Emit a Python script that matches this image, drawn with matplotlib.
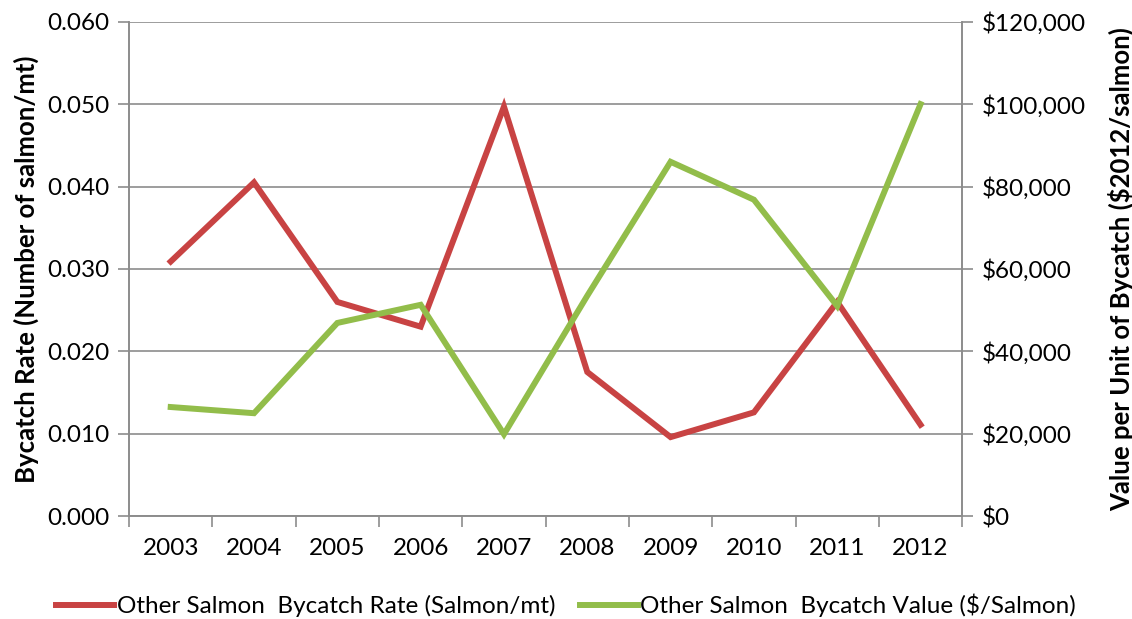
import matplotlib
matplotlib.use("Agg")
import matplotlib.pyplot as plt
from matplotlib.ticker import FuncFormatter, MultipleLocator

years = ["2003", "2004", "2005", "2006", "2007", "2008", "2009", "2010", "2011", "2012"]
bycatch_rate = [0.0309, 0.0405, 0.0260, 0.0230, 0.0497, 0.0175, 0.0096, 0.0126, 0.0260, 0.0111]
bycatch_value = [26500, 25000, 46900, 51300, 19900, 53500, 86000, 76800, 51000, 100000]

RED = "#C84343"
GREEN = "#92BD4A"
GRID = "#8c8c8c"

plt.rcParams["font.family"] = ["Lato", "DejaVu Sans"]

fig = plt.figure(figsize=(11.32, 6.19), dpi=100)
ax = fig.add_axes([0.114, 0.166, 0.736, 0.799])
ax2 = ax.twinx()

x = list(range(len(years)))
l1, = ax.plot(x, bycatch_rate, color=RED, lw=4.3, solid_joinstyle="miter",
              label="Other Salmon  Bycatch Rate (Salmon/mt)", zorder=3)
l2, = ax2.plot(x, bycatch_value, color=GREEN, lw=4.3, solid_joinstyle="miter",
               label="Other Salmon  Bycatch Value ($/Salmon)", zorder=3)

ax.set_xlim(-0.5, len(years) - 0.5)
ax.set_ylim(0, 0.06)
ax2.set_ylim(0, 120000)
ax.yaxis.set_major_locator(MultipleLocator(0.01))
ax2.yaxis.set_major_locator(MultipleLocator(20000))
ax.yaxis.set_major_formatter(FuncFormatter(lambda v, p: f"{v:.3f}"))
ax2.yaxis.set_major_formatter(FuncFormatter(lambda v, p: f"${v:,.0f}"))

# category ticks between years, labels centred
ax.set_xticks([i - 0.5 for i in range(len(years) + 1)])
ax.set_xticklabels([])
ax.set_xticks(x, minor=True)
ax.set_xticklabels(years, minor=True)
ax.tick_params(axis="x", which="major", direction="out", length=8, width=1.2, color=GRID)
ax.tick_params(axis="x", which="minor", length=0, pad=16, labelsize=17.5)
ax.tick_params(axis="y", direction="out", length=8, width=1.2, color=GRID, labelsize=17.5, pad=6)
ax2.tick_params(axis="y", direction="out", length=8, width=1.2, color=GRID, labelsize=17.5, pad=6)

ax.grid(axis="y", color=GRID, lw=1.2)
ax.set_axisbelow(True)
for a in (ax, ax2):
    a.spines["top"].set_visible(False)
    for s in ("left", "right", "bottom"):
        a.spines[s].set_color(GRID)
        a.spines[s].set_linewidth(1.2)

ax.set_ylabel("Bycatch Rate (Number of salmon/mt)", fontsize=18.5, fontweight="bold", labelpad=6)
ax2.set_ylabel("Value per Unit of Bycatch ($2012/salmon)", fontsize=18.5, fontweight="bold", labelpad=16)

fig.legend(handles=[l1, l2], loc="center", bbox_to_anchor=(0.5, 0.022), ncol=2,
           frameon=False, fontsize=17.5, handlelength=2.4, handletextpad=0.1, columnspacing=1.0)

fig.savefig("out.png", dpi=100)
